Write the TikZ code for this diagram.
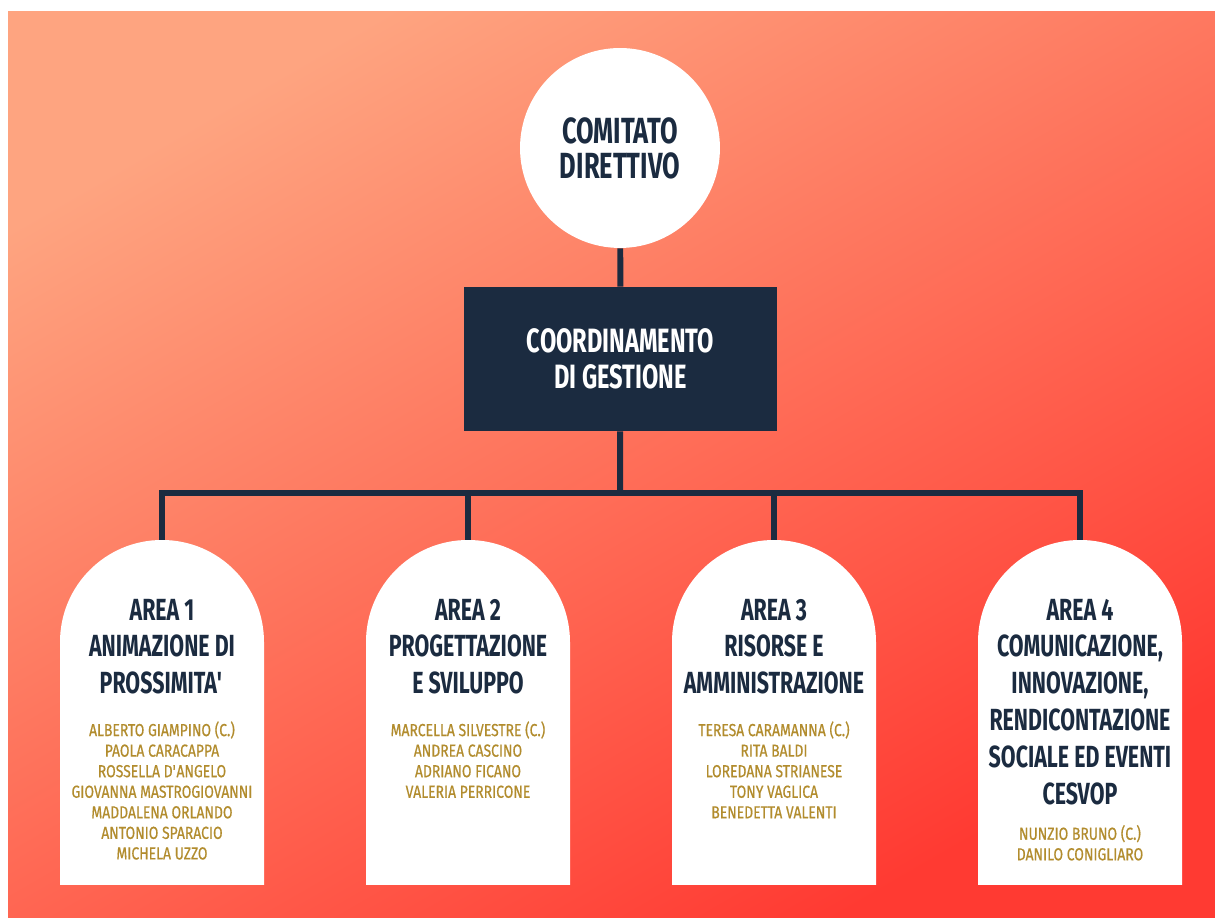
\documentclass[tikz,border=0pt]{standalone}
\usepackage{fontspec}
\usepackage{xcolor}
\usetikzlibrary{positioning}
\newfontfamily\headfont[FakeStretch=0.7]{Fira Sans}
\newfontfamily\namefont[FakeStretch=0.8, FakeBold=0.6]{Fira Sans}
\definecolor{navy}{RGB}{27,43,64}
\definecolor{gold}{RGB}{178,140,45}
\definecolor{bgtop}{RGB}{254,164,128}
\definecolor{bgbot}{RGB}{255,58,50}

\begin{document}
\begin{tikzpicture}[x=0.02cm, y=0.02cm,
	link/.style={navy, line width=3.4pt},
	areatitle/.style={font=\headfont\bfseries\fontsize{17.4}{21}\selectfont, text=navy, align=center, inner sep=0pt, anchor=north},
	areanames/.style={font=\namefont\fontsize{9.9}{11.7}\selectfont, text=gold, align=center, inner sep=0pt}]
	% background
	\useasboundingbox (0,0) rectangle (1215,918);
	\fill[white] (0,0) rectangle (1215,918);
	\shade[top color=bgtop, bottom color=bgbot, shading angle=30] (8,0) rectangle (1215,906);
	% top of the chart
	\node[circle, fill=white, minimum size=113.8pt, inner sep=0pt, text=navy, align=center,
		font=\headfont\bfseries\fontsize{20.7}{20}\selectfont] (comitato) at (620,770) {COMITATO\\DIRETTIVO};
	\node[rectangle, fill=navy, minimum width=178pt, minimum height=82pt, text=white, align=center,
		font=\headfont\bfseries\fontsize{19.2}{20.5}\selectfont] (coord) at (620.5,559) {COORDINAMENTO\\DI GESTIONE};
	% arches
	\foreach \x in {162,468,774,1080}
		\fill[white] (\x-102,33) -- (\x-102,276) arc[start angle=180, end angle=0, radius=102] -- (\x+102,33) -- cycle;
	\coordinate (a1) at (162,378);
	\coordinate (a2) at (468,378);
	\coordinate (a3) at (774,378);
	\coordinate (a4) at (1080,378);
	\coordinate (bar) at (620,425);
	% links
	\draw[link] (comitato) -- (coord);
	\draw[link] (coord) -- (bar);
	\draw[link] (a1) -- (a1 |- bar) -- (a4 |- bar) -- (a4);
	\draw[link] (a2 |- bar) -- (a2);
	\draw[link] (a3 |- bar) -- (a3);
	% areas
	\node[areatitle] (t1) at (162,319.5) {AREA 1\\ANIMAZIONE DI\\PROSSIMITA\textquotesingle};
	\node[areanames, below=15pt of t1] (n1) {ALBERTO GIAMPINO (C.)\\PAOLA CARACAPPA\\ROSSELLA D\textquotesingle ANGELO\\GIOVANNA MASTROGIOVANNI\\MADDALENA ORLANDO\\ANTONIO SPARACIO\\MICHELA UZZO};
	\node[areatitle] (t2) at (468,319.5) {AREA 2\\PROGETTAZIONE\\E SVILUPPO};
	\node[areanames, below=15pt of t2] (n2) {MARCELLA SILVESTRE (C.)\\ANDREA CASCINO\\ADRIANO FICANO\\VALERIA PERRICONE};
	\node[areatitle] (t3) at (774,319.5) {AREA 3\\RISORSE E\\AMMINISTRAZIONE};
	\node[areanames, below=15pt of t3] (n3) {TERESA CARAMANNA (C.)\\RITA BALDI\\LOREDANA STRIANESE\\TONY VAGLICA\\BENEDETTA VALENTI};
	\node[areatitle] (t4) at (1080,319.5) {AREA 4\\COMUNICAZIONE,\\INNOVAZIONE,\\RENDICONTAZIONE\\SOCIALE ED EVENTI\\CESVOP};
	\node[areanames, below=11pt of t4] (n4) {NUNZIO BRUNO (C.)\\DANILO CONIGLIARO};
\end{tikzpicture}
\end{document}
